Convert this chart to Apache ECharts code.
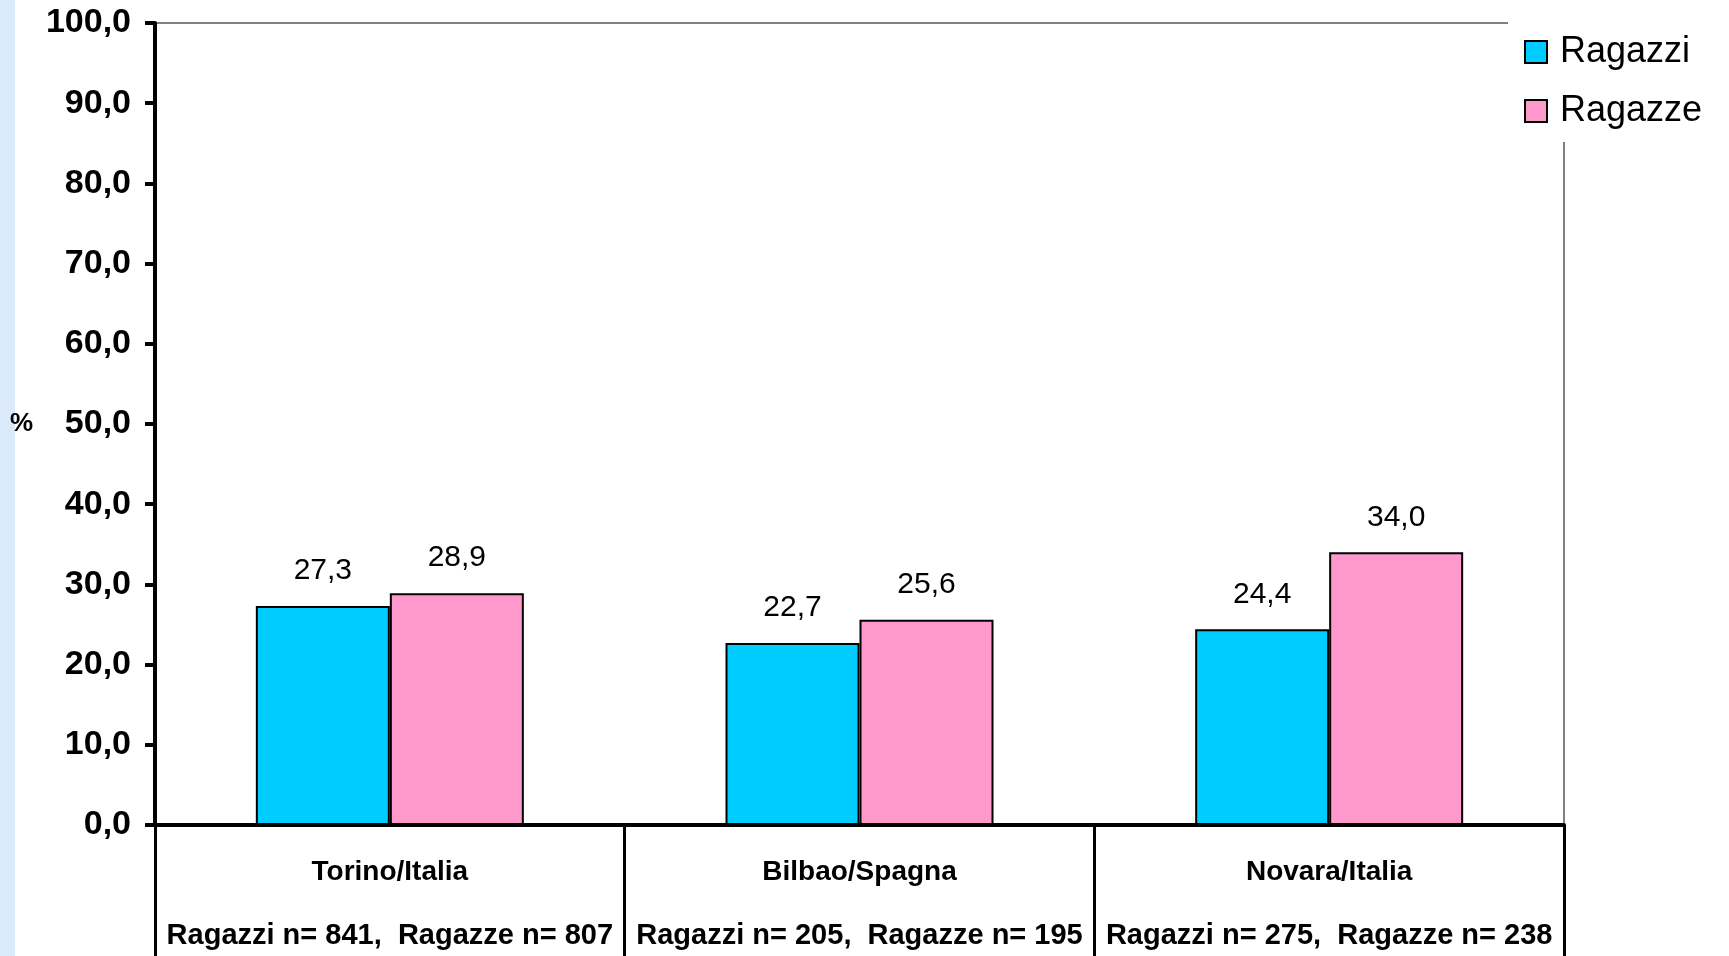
<!DOCTYPE html>
<html>
<head>
<meta charset="utf-8">
<script src="https://cdn.jsdelivr.net/npm/echarts@6/dist/echarts.min.js"></script>
<style>
html,body{margin:0;padding:0;background:#fff;}
#chart{width:1729px;height:956px;}
</style>
</head>
<body>
<div id="chart"></div>
<script>
const categories = ['Torino/Italia', 'Bilbao/Spagna', 'Novara/Italia'];
const sampleLabels = ['Ragazzi n= 841,  Ragazze n= 807', 'Ragazzi n= 205,  Ragazze n= 195', 'Ragazzi n= 275,  Ragazze n= 238'];
const seriesNames = ['Ragazzi', 'Ragazze'];
const ragazzi = [27.3, 22.7, 24.4];
const ragazze = [28.9, 25.6, 34.0];
const yTicks = { min: 0, max: 100, interval: 10 };

const FONT = "'Liberation Sans', Arial, sans-serif";
const fmt = v => Number(v).toFixed(1).replace('.', ',');

const chart = echarts.init(document.getElementById('chart'), null, { renderer: 'canvas' });
const barLabel = {
  show: true, position: 'top', distance: 20,
  fontFamily: FONT, fontSize: 30, color: '#000',
  formatter: p => fmt(p.value)
};
chart.setOption({
  backgroundColor: '#fff',
  animation: false,
  graphic: [{
    type: 'rect', left: 0, top: 0, z: -10,
    shape: { width: 15, height: 956 },
    style: { fill: '#dbeafb' }
  }],
  grid: {
    left: 155, right: 165, top: 23, bottom: 131,
    show: true, borderColor: '#808080', borderWidth: 2, backgroundColor: 'transparent'
  },
  legend: {
    orient: 'vertical', left: 1508, top: 22,
    padding: [12, 20, 13, 16],
    backgroundColor: '#fff',
    itemWidth: 22, itemHeight: 22, itemGap: 23,
    icon: 'rect',
    itemStyle: { borderColor: '#000', borderWidth: 2 },
    textStyle: { fontFamily: FONT, fontSize: 36, color: '#000', padding: [0, 0, 0, 8] },
    data: seriesNames
  },
  xAxis: {
    type: 'category', data: categories,
    axisLine: { lineStyle: { color: '#000', width: 4 } },
    axisTick: { show: true, length: 140, interval: 0, lineStyle: { color: '#000', width: 3 } },
    axisLabel: {
      interval: 0, margin: 15,
      formatter: (v, i) => '{a|' + v + '}\n{b|' + sampleLabels[i] + '}',
      rich: {
        a: { fontFamily: FONT, fontWeight: 'bold', fontSize: 28, color: '#000', lineHeight: 64 },
        b: { fontFamily: FONT, fontWeight: 'bold', fontSize: 29, color: '#000', lineHeight: 64 }
      }
    }
  },
  yAxis: {
    type: 'value', min: yTicks.min, max: yTicks.max, interval: yTicks.interval,
    name: '%', nameLocation: 'middle', nameRotate: 0, nameGap: 122,
    nameTextStyle: { fontFamily: FONT, fontWeight: 'bold', fontSize: 26, color: '#000' },
    axisLine: { show: true, lineStyle: { color: '#000', width: 4 } },
    axisTick: { show: true, length: 10, lineStyle: { color: '#000', width: 4 } },
    splitLine: { show: false },
    axisLabel: {
      margin: 24, fontFamily: FONT, fontWeight: 'bold', fontSize: 34, color: '#000',
      formatter: v => fmt(v)
    }
  },
  series: [
    {
      name: seriesNames[0], type: 'bar', data: ragazzi, barWidth: 134, barGap: '0%',
      itemStyle: { color: '#00ccff', borderColor: '#000', borderWidth: 2 },
      label: barLabel
    },
    {
      name: seriesNames[1], type: 'bar', data: ragazze, barWidth: 134, barGap: '0%',
      itemStyle: { color: '#ff99cc', borderColor: '#000', borderWidth: 2 },
      label: barLabel
    }
  ]
});
</script>
</body>
</html>
